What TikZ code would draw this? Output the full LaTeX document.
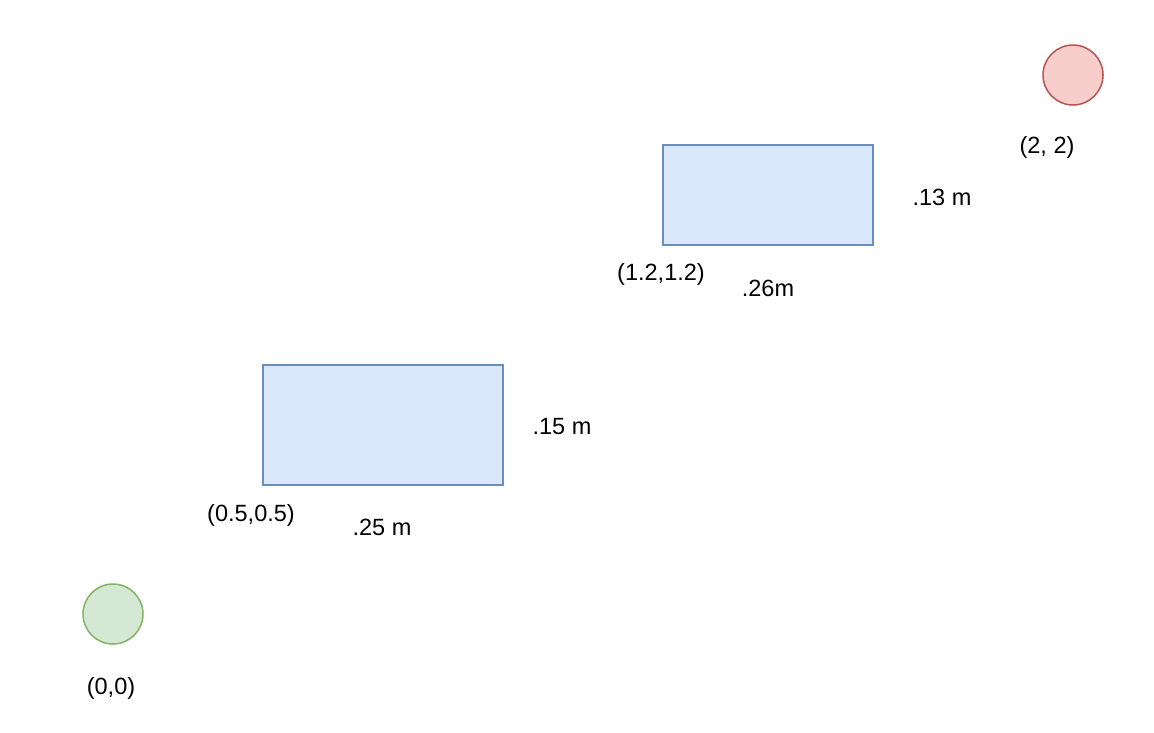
\documentclass[tikz,border=0pt]{standalone}
\usepackage{fontspec}
\setmainfont{Liberation Sans}
\definecolor{gfill}{HTML}{D5E8D4}\definecolor{gline}{HTML}{82B366}
\definecolor{rfill}{HTML}{F8CECC}\definecolor{rline}{HTML}{B85450}
\definecolor{bfill}{HTML}{DAE8FC}\definecolor{bline}{HTML}{6C8EBF}
\tikzset{
  pt/.style={circle,draw,line width=1.5pt,minimum size=60pt,inner sep=0pt},
  box/.style={draw=bline,fill=bfill,line width=1.5pt,inner sep=0pt},
  lbl/.style={font=\fontsize{23.5}{28}\selectfont,inner sep=0pt}
}
\begin{document}
\begin{tikzpicture}[x=1pt,y=-1pt]
\useasboundingbox (0,0) rectangle (1154,732);
\node[pt,draw=gline,fill=gfill] (start) at (113,614) {};
\node[pt,draw=rline,fill=rfill] (goal) at (1073,75) {};
\node[box,minimum width=240pt,minimum height=120pt] (obs1) at (383,425) {};
\node[box,minimum width=210pt,minimum height=100pt] (obs2) at (768,195) {};
\node[lbl] (l00) at (111,688) {(0,0)};
\node[lbl] (l05) at (251,515) {(0.5,0.5)};
\node[lbl] (w1) at (382,527) {.25 m};
\node[lbl] (h1) at (562,427) {.15 m};
\node[lbl] (l12) at (661,274) {(1.2,1.2)};
\node[lbl] (w2) at (768,288) {.26m};
\node[lbl] (h2) at (942,197) {.13 m};
\node[lbl] (l22) at (1047,147) {(2, 2)};
\end{tikzpicture}
\end{document}
